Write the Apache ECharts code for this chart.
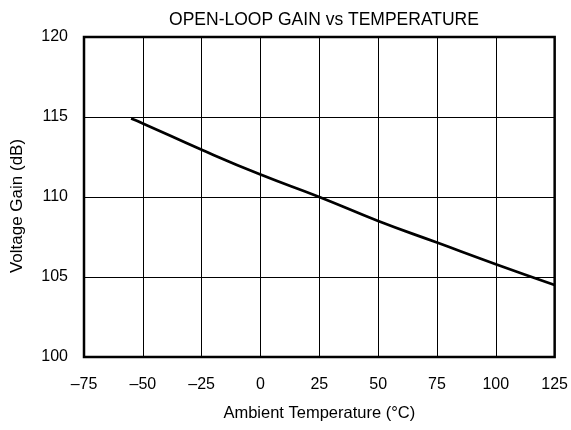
<!DOCTYPE html>
<html>
<head>
<meta charset="utf-8">
<script src="https://cdn.jsdelivr.net/npm/echarts@6/dist/echarts.min.js"></script>
<style>html,body{margin:0;padding:0;background:#fff}#c{width:571px;height:430px}</style>
</head>
<body>
<div id="c"></div>
<script>
var temperature = [-55, -50, -25, 0, 25, 50, 75, 100, 125];
var gain = [114.9, 114.6, 112.95, 111.4, 110.0, 108.5, 107.15, 105.8, 104.5];
var xTicks = [-75, 125, 25];
var yTicks = [100, 120, 5];

var chart = echarts.init(document.getElementById('c'));
var font = 'Liberation Sans, Arial, sans-serif';
chart.setOption({
  animation: false,
  backgroundColor: '#fff',
  title: {
    text: 'OPEN-LOOP GAIN vs TEMPERATURE',
    left: 319, top: 6, textAlign: 'center',
    textStyle: {fontFamily: font, fontSize: 17.5, fontWeight: 'normal', color: '#000'}
  },
  grid: {left: 84, right: 15, top: 37, bottom: 73, show: true, borderColor: '#000', borderWidth: 2.5, backgroundColor: 'transparent'},
  xAxis: {
    type: 'value', min: xTicks[0], max: xTicks[1], interval: xTicks[2],
    name: 'Ambient Temperature (°C)', nameLocation: 'middle', nameGap: 48,
    nameTextStyle: {fontFamily: font, fontSize: 16.5, color: '#000'},
    axisLine: {show: false}, axisTick: {show: false},
    axisLabel: {fontFamily: font, fontSize: 16, color: '#000', margin: 20,
      formatter: function (v) { return String(v).replace('-', '\u2013'); }},
    splitLine: {show: true, lineStyle: {color: '#000', width: 1}}
  },
  yAxis: {
    type: 'value', min: yTicks[0], max: yTicks[1], interval: yTicks[2],
    name: 'Voltage Gain (dB)', nameLocation: 'middle', nameGap: 58, nameRotate: 90,
    nameTextStyle: {fontFamily: font, fontSize: 17, color: '#000', padding: [0, 18, 0, 0]},
    axisLine: {show: false}, axisTick: {show: false},
    axisLabel: {fontFamily: font, fontSize: 16, color: '#000', margin: 16},
    splitLine: {show: true, lineStyle: {color: '#000', width: 1}}
  },
  series: [{
    type: 'line', smooth: true, symbol: 'none',
    data: temperature.map(function (t, i) { return [t, gain[i]]; }),
    lineStyle: {color: '#000', width: 2.7}
  }]
});
</script>
</body>
</html>
